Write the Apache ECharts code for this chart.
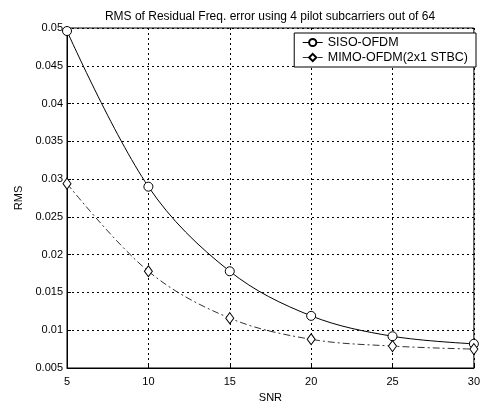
<!DOCTYPE html>
<html>
<head>
<meta charset="utf-8">
<script src="https://cdn.jsdelivr.net/npm/echarts@6/dist/echarts.min.js"></script>
<style>html,body{margin:0;padding:0;background:#fff;}#c{width:483px;height:408px;}</style>
</head>
<body>
<div id="c"></div>
<script>
var snr = [5, 10, 15, 20, 25, 30];
var siso = [0.0496, 0.0290, 0.0178, 0.0119, 0.0092, 0.0082];
var mimo = [0.0294, 0.0178, 0.0116, 0.0088, 0.0079, 0.0075];
var yTicks = [0.005, 0.01, 0.015, 0.02, 0.025, 0.03, 0.035, 0.04, 0.045, 0.05];

var chart = echarts.init(document.getElementById('c'));
var font = 'Liberation Sans, Arial, sans-serif';
function pairs(xs, ys){ return xs.map(function(x,i){ return [x, ys[i]]; }); }
chart.setOption({
  animation: false,
  backgroundColor: '#fff',
  title: {
    text: 'RMS of Residual Freq. error using 4 pilot subcarriers out of 64',
    left: 265, top: 6, textAlign: 'center',
    textStyle: {fontFamily: font, fontSize: 12, fontWeight: 'normal', color: '#000'}
  },
  grid: {left: 67, right: 5, top: 28, bottom: 37, show: true, borderColor: '#000', borderWidth: 1},
  legend: {
    orient: 'vertical', right: 7, top: 33,
    backgroundColor: '#fff', borderColor: '#000', borderWidth: 1,
    padding: [3, 8, 3, 8], itemGap: 2, itemWidth: 20, itemHeight: 9,
    lineStyle: {width: 1},
    textStyle: {fontFamily: font, fontSize: 12.5, color: '#000'},
    data: ['SISO-OFDM', 'MIMO-OFDM(2x1 STBC)']
  },
  xAxis: {
    type: 'value', min: 5, max: 30, interval: 5,
    name: 'SNR', nameLocation: 'middle', nameGap: 24,
    nameTextStyle: {fontFamily: font, fontSize: 11, color: '#000'},
    axisLine: {lineStyle: {color: '#000'}},
    axisTick: {inside: true, length: 4, lineStyle: {color: '#000'}},
    axisLabel: {fontFamily: font, fontSize: 11, color: '#000', margin: 8},
    splitLine: {show: true, lineStyle: {color: '#000', type: [2, 3], width: 1}}
  },
  yAxis: {
    type: 'value', min: 0.005, max: 0.05, interval: 0.005,
    name: 'RMS', nameLocation: 'middle', nameGap: 32, nameRotate: 90,
    nameTextStyle: {fontFamily: font, fontSize: 11, color: '#000'},
    axisLine: {lineStyle: {color: '#000'}},
    axisTick: {inside: true, length: 4, lineStyle: {color: '#000'}},
    axisLabel: {fontFamily: font, fontSize: 11, color: '#000', margin: 4,
      formatter: function(v){ return String(+v.toFixed(3)); }},
    splitLine: {show: true, lineStyle: {color: '#000', type: [2, 3], width: 1}}
  },
  series: [
    {
      name: 'SISO-OFDM', type: 'line', smooth: 0.35,
      data: pairs(snr, siso),
      symbol: 'circle', symbolSize: 9, showAllSymbol: true,
      itemStyle: {color: '#fff', borderColor: '#000', borderWidth: 1},
      lineStyle: {color: '#000', width: 1}
    },
    {
      name: 'MIMO-OFDM(2x1 STBC)', type: 'line', smooth: 0.35,
      data: pairs(snr, mimo),
      symbol: 'diamond', symbolSize: [8, 11],
      itemStyle: {color: '#fff', borderColor: '#000', borderWidth: 1},
      lineStyle: {color: '#333', width: 1, type: [7, 3, 2, 3]}
    }
  ]
});
</script>
</body>
</html>
